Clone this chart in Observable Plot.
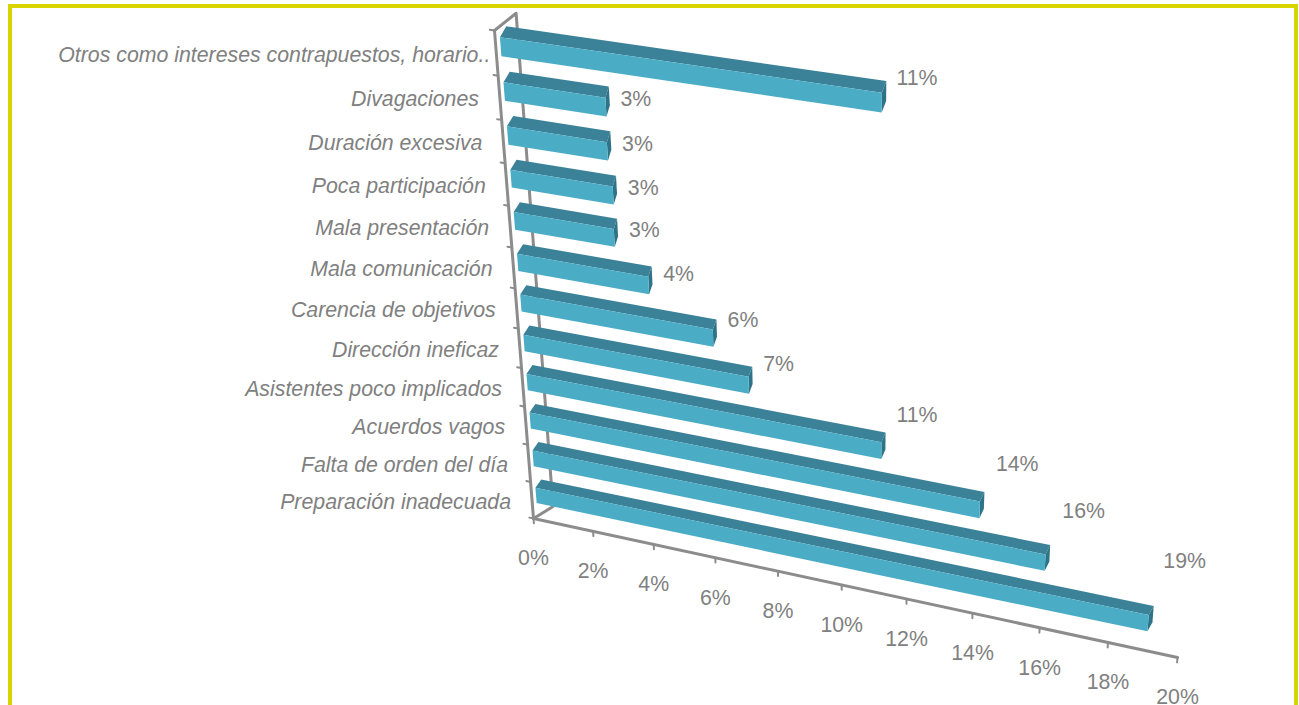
<!DOCTYPE html>
<html><head><meta charset="utf-8">
<script src="https://cdn.jsdelivr.net/npm/d3@7"></script>
<script src="https://cdn.jsdelivr.net/npm/@observablehq/plot@0.6"></script>
<style>
html,body{margin:0;padding:0;background:#fff;overflow:hidden;width:1299px;height:705px}
#frame{position:absolute;left:8px;top:4px;width:1282px;height:760px;border:4px solid #d8d400;box-sizing:content-box}
#chart{position:absolute;left:0;top:0}
</style></head><body><div id="frame"></div><div id="chart"></div>
<script>
const categories = ["Otros como intereses contrapuestos, horario..","Divagaciones","Duración excesiva","Poca participación","Mala presentación","Mala comunicación","Carencia de objetivos","Dirección ineficaz","Asistentes poco implicados","Acuerdos vagos","Falta de orden del día","Preparación inadecuada"];
const values = [11.0,3.08,3.05,3.15,3.11,4.1,6.02,7.07,11.05,13.97,15.92,18.95];
const xTicks = [0,2,4,6,8,10,12,14,16,18,20];
const yTicks = [0,1,2,3,4,5,6,7,8,9,10,11,12];

// perspective plane: value (0..20) × category slot (0..12) onto the picture
const XMAX = 20, YMAX = 12;
const Q = [[533,518],[1177,657],[1220,138],[494,30]];
const [[x0,y0],[x1,y1],[x2,y2],[x3,y3]] = Q;
const dx1=x1-x2, dx2=x3-x2, sx=x0-x1+x2-x3, dy1=y1-y2, dy2=y3-y2, sy=y0-y1+y2-y3;
const den=dx1*dy2-dx2*dy1, G=(sx*dy2-dx2*sy)/den, H=(dx1*sy-sx*dy1)/den;
const A=x1-x0+G*x1, B=x3-x0+H*x3, D=y1-y0+G*y1, E=y3-y0+H*y3;
const plane = d3.geoTransform({point(v,h){
  const u=v/XMAX, w=h/YMAX, q=G*u+H*w+1;
  this.stream.point((A*u+B*w+x0)/q,(D*u+E*w+y0)/q);
}});

const rows = categories.map((name,k)=>({name,value:values[k],slot:categories.length-1-k}));
const TOP=0.81, THICK=0.42, DH=0.26, DVL=0.22, DVR=0.12, OFF=0.15;
const edge = (r,v) => r.slot+TOP+0.06+0.003*v;           // front-top edge of a bar, at value v
const poly = pts => ({type:"Polygon",coordinates:[[...pts,pts[0]]]});
const front = rows.map(r=>{const e=r.value+OFF;return poly([[OFF,edge(r,0)],[e,edge(r,r.value)],[e,edge(r,r.value)-THICK],[OFF,edge(r,0)-THICK]]);});
const topFace = rows.map(r=>{const e=r.value+OFF;return poly([[OFF,edge(r,0)],[e,edge(r,r.value)],[e+DVR,edge(r,r.value)+DH],[OFF+DVL,edge(r,0)+DH]]);});
const endFace = rows.map(r=>{const e=r.value+OFF,t=edge(r,r.value);return poly([[e,t],[e+DVR,t+DH],[e+DVR,t-THICK+DH],[e,t-THICK]]);});
const line = c => ({type:"LineString",coordinates:c});
const BV=0.7, BH=0.45;
const walls = [line([[0,0],[BV,BH],[BV,YMAX+BH],[0,YMAX]]), line([[0,YMAX],[0,0],[XMAX,0]])];
const xTickLines = xTicks.map(t=>line([[t,0],[t,-0.13]]));
const yTickLines = yTicks.map(t=>line([[0,t],[-0.14,t]]));
const lift = v => (3.7*v-10)/40.6;
const GREY="#808080", AXIS="#8c8c8c";

const textBase = {fontSize:21.3,fill:GREY,lineAnchor:"middle"};
const nameMark = {...textBase,x:()=>0,y:r=>r.slot+0.5,text:"name",textAnchor:"end",dy:1.5,fontStyle:"italic"};
const pctMark = {...textBase,x:"value",y:r=>r.slot+TOP+lift(r.value),text:r=>Math.round(r.value)+"%",textAnchor:"start",dx:20,dy:1};
const plot = Plot.plot({
  width:1299,height:705,margin:0,
  projection:plane,
  style:{fontFamily:"'Liberation Sans',Arial,sans-serif",background:"transparent",overflow:"visible"},
  marks:[
    Plot.geo(walls,{stroke:AXIS,strokeWidth:3,fill:"none"}),
    Plot.geo(xTickLines,{stroke:AXIS,strokeWidth:2,fill:"none"}),
    Plot.geo(yTickLines,{stroke:AXIS,strokeWidth:2,fill:"none"}),
    Plot.geo(topFace,{fill:"#3b8299"}),
    Plot.geo(endFace,{fill:"#2e7388"}),
    Plot.geo(front,{fill:"#4bacc6"}),
    Plot.text(rows.slice(1),{...nameMark,dx:-21}),
    Plot.text(rows.slice(0,1),{...nameMark,dx:-6}),
    Plot.text(rows.slice(1,-1),pctMark),
    Plot.text(rows.slice(0,1),{...pctMark,dy:18}),
    Plot.text(rows.slice(-1),{...pctMark,dx:16}),
    Plot.text(xTicks,{...textBase,x:d=>d,y:()=>0,text:d=>d+"%",textAnchor:"middle",dy:40})
  ]
});
document.getElementById("chart").append(plot);
</script></body></html>
